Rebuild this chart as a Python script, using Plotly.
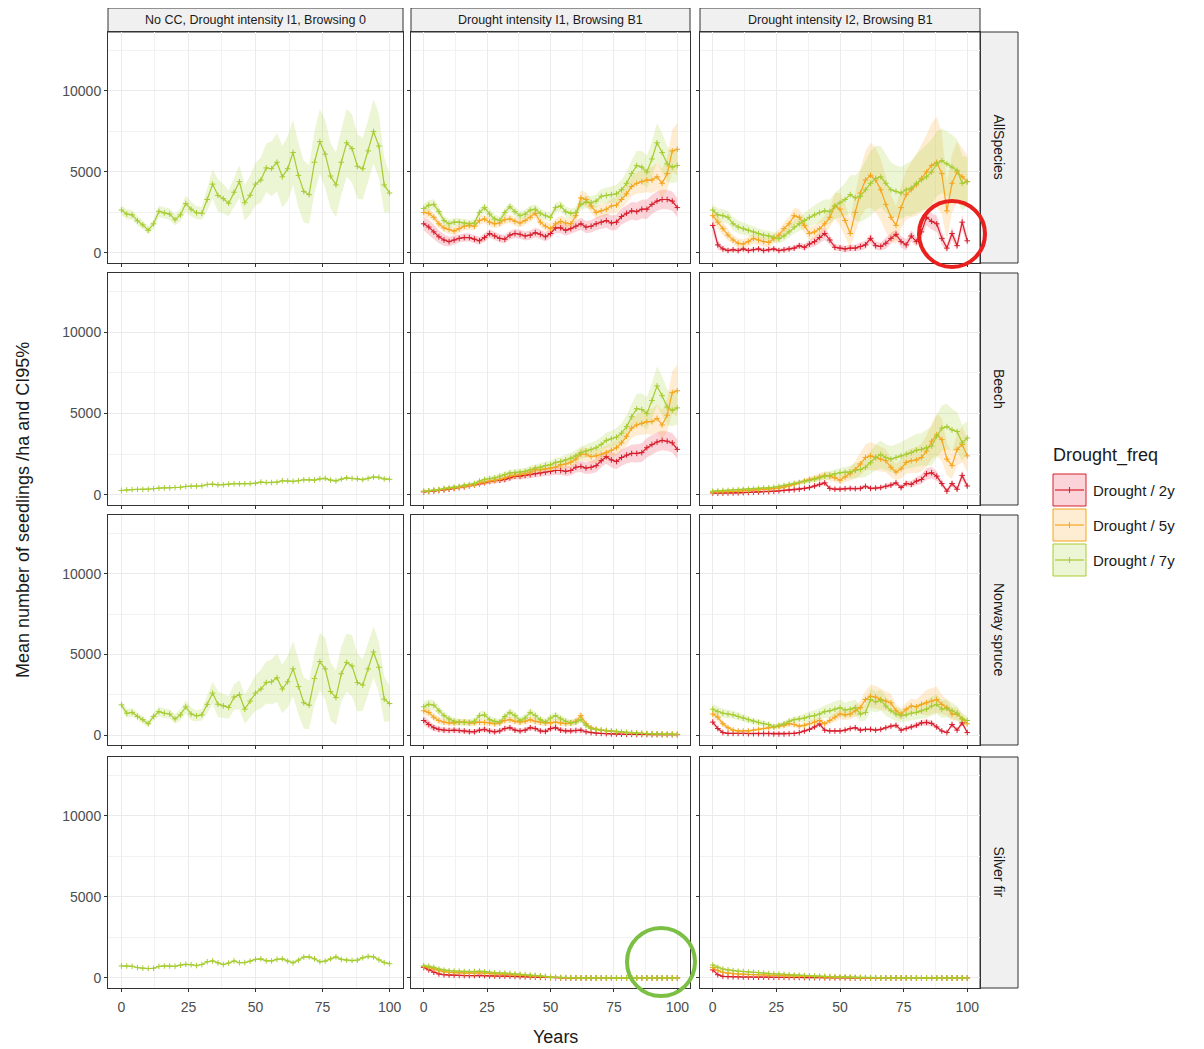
import plotly.graph_objects as go
from plotly.subplots import make_subplots

# page body has an 8px margin, so the figure is 8px smaller than the window
OFF = 8
W, H = 1204 - OFF, 1049 - OFF

years = list(range(0, 101, 2))
col_titles = ["No CC, Drought intensity I1, Browsing 0",
              "Drought intensity I1, Browsing B1",
              "Drought intensity I2, Browsing B1"]
row_titles = ["AllSpecies", "Beech", "Norway spruce", "Silver fir"]
freqs = ["Drought / 2y", "Drought / 5y", "Drought / 7y"]

# ---- AllSpecies ----
all_noCC_7y = [2650, 2400, 2350, 1980, 1730, 1400, 1800, 2570, 2470, 2400, 2050, 2350, 3050, 2700, 2480, 2450,
               3300, 4250, 3550, 3350, 3070, 3750, 4400, 3100, 3560, 4250, 4500, 5250, 5200, 5600, 4700, 5200,
               6200, 4790, 3800, 3600, 5600, 6870, 6100, 4750, 4200, 5600, 6800, 6440, 5350, 5200, 6300, 7500,
               6600, 4200, 3700]
ci_all_noCC_7y = [300, 320, 300, 280, 260, 250, 300, 350, 350, 350, 350, 400, 500, 450, 400, 400,
                  700, 900, 1000, 900, 800, 900, 1000, 1100, 1200, 1300, 1400, 1500, 1700, 1800, 1900, 2000,
                  2000, 2000, 1900, 1800, 1900, 2000, 2100, 2000, 2000, 2000, 2100, 2100, 2000, 1900, 1900, 2000,
                  2000, 1700, 1200]
all_I1_2y = [1800, 1600, 1300, 1000, 800, 700, 800, 900, 950, 950, 850, 750, 950, 1200, 1050, 900,
             850, 1100, 1200, 1150, 1050, 1100, 1250, 1150, 1000, 1200, 1550, 1550, 1400, 1500, 1650, 1800,
             1600, 1650, 1800, 1900, 2000, 1850, 1900, 2250, 2450, 2600, 2550, 2700, 2700, 3000, 3200, 3300,
             3300, 3200, 2800]
ci_all_I1_2y = [400, 450, 450, 400, 350, 300, 280, 260, 250, 250, 250, 250, 260, 260, 260, 260,
                260, 270, 280, 280, 280, 290, 300, 300, 300, 300, 320, 330, 340, 350, 360, 370,
                380, 390, 400, 420, 440, 460, 480, 500, 520, 540, 560, 580, 600, 600, 600, 600,
                600, 600, 600]
all_I1_5y = [2500, 2450, 2200, 1800, 1550, 1450, 1350, 1500, 1650, 1700, 1650, 2000, 2100, 1900, 1800, 1850,
             2050, 2100, 1950, 1850, 2000, 2200, 2450, 1900, 1650, 1500, 1800, 1950, 1850, 1800, 2300, 3400,
             3300, 2900, 2500, 2600, 2700, 2900, 2950, 3300, 3650, 4100, 4300, 4400, 4500, 4500, 4700, 4300,
             4900, 6300, 6400]
ci_all_I1_5y = [300, 300, 280, 260, 250, 250, 250, 250, 250, 250, 250, 260, 260, 260, 260, 260,
                270, 270, 270, 280, 280, 290, 300, 300, 300, 300, 320, 340, 360, 380, 400, 450,
                450, 420, 400, 400, 420, 450, 480, 520, 560, 600, 650, 700, 750, 800, 850, 900,
                1000, 1300, 1600]
all_I1_7y = [2740, 2950, 3000, 2550, 2000, 1800, 1900, 1900, 1850, 1800, 1850, 2500, 2800, 2400, 2100, 2000,
             2500, 2850, 2550, 2300, 2400, 2650, 2700, 2450, 2300, 2200, 2800, 2900, 2550, 2450, 2500, 3000,
             3150, 3100, 3200, 3500, 3550, 3600, 3650, 3900, 4300, 4900, 5400, 5300, 5000, 5800, 6800, 6200,
             5500, 5300, 5400]
ci_all_I1_7y = [300, 320, 320, 300, 280, 260, 250, 250, 250, 250, 250, 260, 280, 300, 280, 260,
                260, 280, 300, 280, 270, 280, 300, 300, 280, 280, 300, 320, 320, 300, 320, 350,
                380, 400, 420, 450, 480, 500, 550, 600, 700, 800, 900, 1000, 1000, 1100, 1200, 1200,
                1100, 1000, 1000]
all_I2_2y = [1700, 500, 250, 150, 200, 150, 250, 150, 200, 250, 150, 200, 250, 150, 200, 250,
             300, 450, 350, 550, 700, 950, 1200, 800, 350, 300, 250, 300, 300, 400, 500, 900,
             450, 400, 600, 900, 1150, 700, 500, 1050, 700, 1300, 2200, 1950, 1800, 900, 300, 1200,
             450, 1900, 750]
ci_all_I2_2y = [500, 300, 150, 120, 120, 120, 120, 120, 120, 120, 120, 120, 120, 120, 120, 150,
                150, 180, 200, 250, 300, 350, 400, 300, 200, 200, 200, 200, 200, 250, 250, 300,
                250, 250, 350, 350, 300, 350, 350, 350, 300, 400, 500, 500, 500, 400, 250, 400,
                250, 450, 300]
all_I2_5y = [2300, 1900, 1500, 1100, 800, 600, 550, 700, 900, 800, 700, 650, 900, 1100, 1500, 1800,
             2300, 2200, 1700, 1200, 1300, 1500, 1800, 2200, 2900, 2700, 2000, 1200, 2500, 3700, 4500, 4800,
             4500, 3900, 3000, 2200, 1700, 2800, 3600, 3900, 4200, 4600, 5000, 5400, 5600, 4900, 2600, 4300,
             5000, 4700, 4400]
ci_all_I2_5y = [400, 400, 400, 350, 300, 300, 300, 300, 300, 300, 300, 300, 300, 350, 400, 450,
                500, 500, 450, 400, 400, 450, 500, 600, 800, 1000, 1000, 900, 1200, 1500, 1800, 2000,
                2000, 1900, 1700, 1400, 1200, 1300, 1500, 1700, 1900, 2100, 2300, 2600, 2800, 2500, 1800,
                1800, 1900, 1800, 1600]
all_I2_7y = [2650, 2350, 2300, 2200, 1800, 1600, 1500, 1400, 1300, 1200, 1100, 1050, 950, 880, 1050, 1300,
             1600, 1800, 2000, 2200, 2350, 2500, 2600, 2550, 2900, 3100, 3300, 3600, 3400, 3500, 3900, 4300,
             4600, 4700, 4300, 3900, 3800, 3700, 3900, 4000, 4300, 4500, 4700, 5000, 5500, 5700, 5500, 5300,
             5100, 4300, 4400]
ci_all_I2_7y = [350, 400, 400, 400, 400, 400, 380, 360, 340, 320, 300, 300, 300, 300, 320, 350,
                400, 450, 500, 550, 600, 650, 700, 750, 800, 900, 1000, 1200, 1400, 1600, 1800, 2000,
                2000, 1900, 1800, 1700, 1600, 1600, 1600, 1700, 1800, 1900, 2000, 2000, 2000, 2000, 2000,
                2000, 1900, 1700, 1500]

# ---- Beech ----
beech_noCC_7y = [270, 310, 330, 340, 340, 350, 380, 420, 430, 430, 450, 470, 520, 540, 540, 560,
                 640, 660, 620, 620, 660, 690, 680, 690, 690, 720, 790, 760, 760, 780, 870, 860,
                 830, 870, 930, 930, 910, 990, 1020, 910, 860, 970, 1050, 1010, 990, 940, 1020, 1100,
                 1080, 980, 960]
ci_beech_noCC_7y = [30, 30, 30, 30, 30, 30, 30, 30, 30, 30, 30, 35, 35, 35, 40, 40,
                    40, 40, 40, 45, 45, 50, 50, 50, 50, 55, 55, 55, 60, 60, 60, 60,
                    65, 65, 65, 70, 70, 70, 70, 75, 75, 75, 80, 80, 80, 80, 85, 85,
                    85, 85, 80]
beech_I1_2y = [190, 210, 240, 270, 310, 350, 400, 450, 500, 560, 620, 680, 750, 820, 880, 900,
               950, 1050, 1150, 1150, 1200, 1250, 1300, 1350, 1400, 1450, 1500, 1500, 1450, 1500, 1700, 1750,
               1650, 1700, 1800, 2100, 2350, 2150, 2050, 2300, 2450, 2550, 2550, 2600, 2900, 3100, 3250, 3350,
               3300, 3200, 2800]
ci_beech_I1_2y = [40, 40, 50, 50, 60, 60, 70, 80, 90, 100, 110, 120, 130, 140, 150, 160,
                  170, 180, 190, 200, 210, 220, 230, 240, 250, 260, 270, 280, 290, 300, 320, 340,
                  360, 380, 400, 420, 440, 460, 480, 500, 520, 540, 560, 580, 600, 600, 600, 600,
                  600, 600, 600]
beech_I1_5y = [220, 240, 270, 300, 350, 380, 420, 470, 520, 560, 620, 720, 800, 850, 900, 950,
               1050, 1150, 1200, 1250, 1300, 1400, 1550, 1550, 1600, 1650, 1700, 1850, 1900, 2000, 2200, 2500,
               2500, 2350, 2400, 2500, 2600, 2750, 2900, 3200, 3600, 4100, 4300, 4400, 4500, 4500, 4700, 4300,
               4900, 6300, 6400]
ci_beech_I1_5y = [40, 40, 50, 50, 60, 60, 70, 80, 90, 100, 110, 120, 130, 140, 150, 160,
                  170, 180, 190, 200, 210, 220, 230, 240, 250, 260, 280, 300, 320, 340, 360, 400,
                  420, 420, 420, 420, 440, 460, 480, 520, 560, 600, 650, 700, 750, 800, 850, 900,
                  1000, 1300, 1600]
beech_I1_7y = [230, 260, 300, 330, 400, 430, 480, 520, 600, 640, 700, 850, 950, 1000, 1050, 1150,
               1250, 1350, 1380, 1400, 1450, 1550, 1650, 1700, 1800, 1850, 2000, 2050, 2150, 2250, 2400, 2600,
               2700, 2800, 2900, 3100, 3350, 3450, 3550, 3800, 4200, 4800, 5300, 5250, 5000, 5800, 6700, 6100,
               5400, 5200, 5350]
ci_beech_I1_7y = [40, 40, 50, 50, 60, 60, 70, 80, 90, 100, 110, 120, 130, 140, 150, 160,
                  170, 180, 190, 200, 210, 220, 230, 240, 250, 260, 280, 300, 320, 340, 360, 380,
                  400, 420, 440, 460, 480, 500, 550, 600, 700, 800, 900, 1000, 1000, 1100, 1200, 1200,
                  1100, 1000, 1000]
beech_I2_2y = [120, 110, 110, 120, 120, 130, 140, 150, 170, 180, 200, 200, 220, 250, 280, 300,
               320, 350, 400, 450, 550, 650, 740, 400, 350, 350, 380, 400, 380, 400, 530, 400,
               420, 450, 530, 600, 740, 450, 700, 650, 850, 950, 1300, 1360, 1150, 700, 230, 700,
               350, 1200, 550]
ci_beech_I2_2y = [30, 30, 30, 30, 30, 30, 30, 40, 40, 40, 50, 50, 50, 60, 60, 70,
                  70, 80, 90, 100, 120, 150, 150, 100, 100, 100, 100, 100, 100, 120, 100, 100,
                  110, 120, 150, 150, 120, 150, 150, 200, 250, 300, 350, 350, 300, 200, 100, 200,
                  150, 300, 200]
beech_I2_5y = [180, 180, 190, 200, 210, 230, 250, 260, 280, 300, 320, 350, 380, 420, 480, 550,
               650, 750, 850, 950, 1000, 1100, 1200, 1150, 1050, 900, 1100, 1300, 1550, 1900, 2300, 2400,
               2300, 2200, 2100, 1700, 1400, 1600, 2000, 2100, 2150, 2300, 2700, 3300, 3700, 3400, 2200, 1800,
               2800, 3100, 2400]
ci_beech_I2_5y = [40, 40, 40, 40, 50, 50, 50, 60, 60, 70, 70, 80, 80, 90, 100, 110,
                  120, 130, 150, 170, 200, 230, 260, 280, 260, 250, 300, 400, 550, 700, 800, 850,
                  800, 750, 700, 600, 500, 600, 700, 750, 800, 850, 950, 1100, 1300, 1300, 1000,
                  800, 1000, 1100, 1000]
beech_I2_7y = [230, 250, 270, 280, 300, 320, 340, 360, 370, 400, 420, 440, 470, 520, 580, 640,
               700, 760, 820, 880, 960, 1050, 1150, 1200, 1300, 1360, 1400, 1400, 1500, 1560, 1700, 1980,
               2300, 2490, 2300, 2200, 2300, 2400, 2500, 2600, 2750, 2800, 2900, 3000, 3600, 4100, 4200, 4000,
               3900, 3200, 3500]
ci_beech_I2_7y = [40, 40, 40, 40, 50, 50, 50, 60, 60, 70, 70, 80, 80, 90, 100, 110,
                  120, 130, 140, 160, 180, 200, 220, 250, 280, 300, 350, 400, 450, 500, 600, 700,
                  800, 850, 800, 800, 800, 850, 900, 950, 1000, 1000, 1100, 1200, 1300, 1400, 1400,
                  1300, 1200, 1100, 1000]

# ---- Norway spruce ----
spruce_noCC_7y = [1870, 1350, 1400, 1150, 950, 700, 1150, 1450, 1350, 1300, 1000, 1250, 1750, 1300, 1190, 1250,
                  1900, 2600, 1910, 1810, 1710, 2350, 2500, 1600, 2100, 2600, 2850, 3250, 3300, 3550, 2850, 3300,
                  4100, 3000, 2000, 1850, 3500, 4550, 4100, 2700, 2320, 3800, 4500, 4280, 3250, 3100, 4100, 5150,
                  4200, 2220, 1950]
ci_spruce_noCC_7y = [250, 280, 260, 240, 220, 200, 250, 300, 300, 300, 300, 350, 400, 400, 350, 350,
                     550, 700, 800, 750, 700, 800, 900, 900, 1000, 1100, 1200, 1300, 1400, 1500, 1500, 1600,
                     1700, 1700, 1600, 1500, 1600, 1800, 1900, 1800, 1700, 1700, 1800, 1900, 1800, 1600, 1600,
                     1600, 1600, 1400, 1100]
spruce_I1_2y = [900, 650, 450, 350, 300, 280, 300, 280, 250, 200, 200, 300, 350, 250, 200, 250,
                400, 450, 300, 250, 300, 450, 400, 250, 220, 400, 450, 300, 250, 250, 280, 300,
                200, 150, 120, 100, 80, 70, 60, 50, 40, 40, 30, 30, 30, 20, 20, 20,
                20, 20, 20]
ci_spruce_I1_2y = [300, 250, 200, 160, 150, 150, 150, 150, 140, 140, 140, 150, 150, 150, 140, 140,
                   150, 150, 150, 140, 140, 150, 150, 140, 140, 150, 150, 150, 140, 140, 140, 140,
                   100, 80, 60, 50, 40, 30, 30, 20, 20, 20, 20, 20, 10, 10, 10, 10,
                   10, 10, 10]
spruce_I1_5y = [1500, 1400, 1100, 900, 800, 750, 750, 800, 800, 750, 750, 800, 780, 750, 700, 750,
                900, 950, 850, 800, 850, 950, 850, 800, 750, 750, 800, 750, 700, 750, 850, 1200,
                700, 450, 350, 300, 250, 220, 200, 170, 150, 130, 110, 100, 90, 80, 70, 60,
                50, 50, 40]
ci_spruce_I1_5y = [280, 260, 230, 200, 190, 180, 180, 180, 180, 180, 180, 190, 190, 180, 180, 180,
                   200, 200, 190, 190, 190, 200, 200, 190, 190, 190, 200, 190, 180, 190, 200, 250,
                   180, 120, 90, 80, 70, 60, 50, 50, 40, 40, 30, 30, 30, 20, 20, 20,
                   20, 20, 20]
spruce_I1_7y = [1750, 1900, 1850, 1500, 1200, 1000, 850, 780, 780, 780, 850, 1200, 1250, 950, 850, 800,
                1150, 1400, 1200, 900, 1050, 1400, 1200, 950, 800, 1050, 1200, 1000, 850, 750, 800, 950,
                600, 400, 350, 300, 280, 250, 220, 180, 160, 150, 120, 100, 90, 80, 70, 60,
                50, 50, 40]
ci_spruce_I1_7y = [300, 320, 310, 280, 250, 230, 220, 210, 210, 210, 220, 250, 260, 230, 220, 210,
                   240, 260, 240, 220, 230, 260, 240, 220, 210, 230, 240, 220, 200, 190, 200, 210,
                   160, 110, 90, 80, 70, 60, 50, 50, 40, 40, 30, 30, 30, 20, 20, 20,
                   20, 20, 20]
spruce_I2_2y = [800, 400, 150, 100, 100, 100, 100, 80, 80, 80, 80, 80, 60, 60, 60, 80,
                100, 150, 250, 350, 500, 680, 300, 250, 250, 250, 300, 400, 450, 300, 350, 350,
                300, 350, 450, 550, 600, 300, 400, 500, 600, 750, 780, 720, 500, 250, 150, 650,
                300, 750, 150]
ci_spruce_I2_2y = [200, 100, 50, 30, 30, 30, 30, 30, 20, 20, 20, 20, 20, 20, 20, 20,
                   30, 30, 50, 80, 120, 150, 80, 60, 60, 60, 80, 100, 100, 80, 80, 80,
                   80, 80, 100, 120, 150, 80, 100, 120, 150, 180, 200, 180, 120, 60, 40, 150,
                   80, 180, 40]
spruce_I2_5y = [1300, 1100, 700, 450, 300, 250, 250, 250, 300, 350, 400, 450, 500, 550, 600, 700,
                650, 550, 600, 700, 800, 900, 700, 900, 1100, 1300, 1250, 1300, 1500, 1700, 2200, 2400,
                2350, 2200, 2100, 2000, 1500, 1300, 1600, 1800, 1750, 1900, 2000, 2100, 2200, 1900, 1700,
                1300, 1300, 1000, 700]
ci_spruce_I2_5y = [300, 250, 200, 150, 100, 80, 80, 80, 90, 100, 110, 120, 130, 140, 150, 170,
                   160, 150, 160, 180, 200, 220, 180, 220, 280, 330, 320, 330, 380, 430, 550, 700,
                   700, 650, 600, 550, 400, 350, 400, 450, 450, 600, 800, 800, 800, 600, 500, 400,
                   400, 300, 200]
spruce_I2_7y = [1600, 1450, 1350, 1300, 1250, 1150, 1050, 950, 850, 780, 700, 650, 500, 600, 700, 850,
                950, 1000, 1050, 1150, 1200, 1300, 1450, 1500, 1600, 1700, 1550, 1600, 1700, 1300, 1400, 2200,
                2050, 2150, 1800, 1500, 1300, 1200, 1250, 1350, 1400, 1500, 1600, 1800, 1900, 1600, 1650,
                1500, 1350, 1000, 900]
ci_spruce_I2_7y = [300, 300, 280, 260, 250, 240, 220, 200, 190, 180, 170, 160, 150, 150, 160, 180,
                   200, 230, 260, 300, 330, 360, 400, 450, 500, 500, 450, 500, 500, 450, 500, 700,
                   650, 650, 600, 500, 450, 400, 400, 450, 450, 500, 550, 600, 600, 550, 550, 500,
                   450, 350, 300]

# ---- Silver fir ----
fir_noCC_7y = [740, 740, 720, 640, 600, 580, 600, 710, 740, 740, 720, 790, 840, 820, 760, 830,
               1000, 1050, 930, 830, 920, 1050, 940, 950, 1040, 1150, 1180, 1060, 1050, 1150, 1180, 1040,
               930, 1100, 1290, 1300, 1180, 1000, 1040, 1180, 1300, 1150, 1100, 1070, 1100, 1250, 1330, 1300,
               1120, 950, 880]
ci_fir_noCC_7y = [40, 40, 40, 40, 35, 35, 35, 35, 40, 40, 40, 40, 40, 45, 45, 45,
                  50, 50, 50, 50, 50, 55, 55, 55, 60, 60, 60, 60, 60, 65, 65, 65,
                  70, 70, 70, 70, 75, 75, 75, 80, 80, 80, 80, 80, 85, 85, 85, 85,
                  80, 80, 80]
fir_I1_2y = [650, 500, 350, 250, 200, 180, 170, 160, 150, 150, 150, 170, 150, 130, 120, 110,
             120, 110, 100, 80, 70, 60, 50, 40, 30, 20, 10, 0, 0, 0, 0, 0,
             0, 0, 0, 0, 0, 0, 0, 0, 0, 0, 0, 0, 0, 0, 0, 0,
             0, 0, 0]
ci_fir_I1_2y = [100, 80, 60, 50, 40, 40, 40, 40, 40, 40, 40, 40, 40, 30, 30, 30,
                30, 30, 30, 20, 20, 20, 20, 10, 10, 10, 10, 0, 0, 0, 0, 0,
                0, 0, 0, 0, 0, 0, 0, 0, 0, 0, 0, 0, 0, 0, 0, 0,
                0, 0, 0]
fir_I1_5y = [700, 650, 550, 450, 380, 350, 330, 320, 300, 300, 300, 320, 300, 270, 250, 230,
             230, 210, 190, 170, 150, 130, 110, 90, 70, 40, 30, 20, 10, 10, 10, 0,
             0, 0, 0, 0, 0, 0, 0, 0, 0, 0, 0, 0, 0, 0, 0, 0,
             0, 0, 0]
ci_fir_I1_5y = [110, 100, 90, 80, 70, 60, 60, 60, 60, 60, 60, 60, 60, 50, 50, 50,
                50, 40, 40, 40, 30, 30, 30, 20, 20, 10, 10, 10, 0, 0, 0, 0,
                0, 0, 0, 0, 0, 0, 0, 0, 0, 0, 0, 0, 0, 0, 0, 0,
                0, 0, 0]
fir_I1_7y = [750, 720, 650, 550, 480, 450, 430, 420, 400, 380, 400, 420, 380, 350, 320, 300,
             300, 280, 250, 230, 200, 180, 160, 140, 100, 60, 40, 30, 20, 20, 10, 0,
             0, 0, 0, 0, 0, 0, 0, 0, 0, 0, 0, 0, 0, 0, 0, 0,
             0, 0, 0]
ci_fir_I1_7y = [120, 110, 100, 90, 80, 70, 60, 60, 60, 60, 60, 60, 55, 50, 50, 45,
                45, 40, 40, 35, 35, 30, 30, 25, 20, 15, 10, 10, 5, 5, 5, 0,
                0, 0, 0, 0, 0, 0, 0, 0, 0, 0, 0, 0, 0, 0, 0, 0,
                0, 0, 0]
fir_I2_2y = [500, 200, 100, 80, 70, 70, 60, 60, 50, 50, 50, 50, 40, 40, 40, 30,
             30, 30, 20, 20, 20, 20, 10, 10, 10, 10, 10, 0, 0, 0, 0, 0,
             0, 0, 0, 0, 0, 0, 0, 0, 0, 0, 0, 0, 0, 0, 0, 0,
             0, 0, 0]
ci_fir_I2_2y = [100, 50, 30, 20, 20, 20, 20, 20, 20, 20, 20, 20, 10, 10, 10, 10,
                10, 10, 10, 10, 10, 10, 5, 5, 5, 5, 5, 0, 0, 0, 0, 0,
                0, 0, 0, 0, 0, 0, 0, 0, 0, 0, 0, 0, 0, 0, 0, 0,
                0, 0, 0]
fir_I2_5y = [650, 450, 350, 300, 270, 250, 230, 210, 200, 190, 180, 170, 160, 150, 140, 130,
             120, 110, 100, 90, 80, 70, 60, 50, 40, 30, 20, 20, 10, 10, 10, 10,
             0, 0, 0, 0, 0, 0, 0, 0, 0, 0, 0, 0, 0, 0, 0, 0,
             0, 0, 0]
ci_fir_I2_5y = [110, 80, 60, 50, 50, 45, 45, 40, 40, 40, 35, 35, 30, 30, 30, 25,
                25, 20, 20, 20, 15, 15, 10, 10, 10, 5, 5, 5, 5, 0, 0, 0,
                0, 0, 0, 0, 0, 0, 0, 0, 0, 0, 0, 0, 0, 0, 0, 0,
                0, 0, 0]
fir_I2_7y = [800, 650, 550, 500, 450, 420, 400, 370, 350, 320, 300, 280, 260, 240, 220, 200,
             180, 160, 150, 130, 120, 110, 100, 90, 80, 70, 60, 50, 40, 30, 30, 20,
             20, 10, 10, 10, 10, 10, 0, 0, 0, 0, 0, 0, 0, 0, 0, 0,
             0, 0, 0]
ci_fir_I2_7y = [130, 110, 90, 80, 70, 65, 60, 55, 50, 50, 45, 45, 40, 40, 35, 35,
                30, 30, 25, 25, 20, 20, 20, 15, 15, 15, 10, 10, 10, 5, 5, 5,
                5, 5, 5, 0, 0, 0, 0, 0, 0, 0, 0, 0, 0, 0, 0, 0,
                0, 0, 0]

# (row, col) -> series of that panel
panels = {
    (1, 1): [("Drought / 7y", all_noCC_7y, ci_all_noCC_7y)],
    (1, 2): [("Drought / 2y", all_I1_2y, ci_all_I1_2y), ("Drought / 5y", all_I1_5y, ci_all_I1_5y),
             ("Drought / 7y", all_I1_7y, ci_all_I1_7y)],
    (1, 3): [("Drought / 2y", all_I2_2y, ci_all_I2_2y), ("Drought / 5y", all_I2_5y, ci_all_I2_5y),
             ("Drought / 7y", all_I2_7y, ci_all_I2_7y)],
    (2, 1): [("Drought / 7y", beech_noCC_7y, ci_beech_noCC_7y)],
    (2, 2): [("Drought / 2y", beech_I1_2y, ci_beech_I1_2y), ("Drought / 5y", beech_I1_5y, ci_beech_I1_5y),
             ("Drought / 7y", beech_I1_7y, ci_beech_I1_7y)],
    (2, 3): [("Drought / 2y", beech_I2_2y, ci_beech_I2_2y), ("Drought / 5y", beech_I2_5y, ci_beech_I2_5y),
             ("Drought / 7y", beech_I2_7y, ci_beech_I2_7y)],
    (3, 1): [("Drought / 7y", spruce_noCC_7y, ci_spruce_noCC_7y)],
    (3, 2): [("Drought / 2y", spruce_I1_2y, ci_spruce_I1_2y), ("Drought / 5y", spruce_I1_5y, ci_spruce_I1_5y),
             ("Drought / 7y", spruce_I1_7y, ci_spruce_I1_7y)],
    (3, 3): [("Drought / 2y", spruce_I2_2y, ci_spruce_I2_2y), ("Drought / 5y", spruce_I2_5y, ci_spruce_I2_5y),
             ("Drought / 7y", spruce_I2_7y, ci_spruce_I2_7y)],
    (4, 1): [("Drought / 7y", fir_noCC_7y, ci_fir_noCC_7y)],
    (4, 2): [("Drought / 2y", fir_I1_2y, ci_fir_I1_2y), ("Drought / 5y", fir_I1_5y, ci_fir_I1_5y),
             ("Drought / 7y", fir_I1_7y, ci_fir_I1_7y)],
    (4, 3): [("Drought / 2y", fir_I2_2y, ci_fir_I2_2y), ("Drought / 5y", fir_I2_5y, ci_fir_I2_5y),
             ("Drought / 7y", fir_I2_7y, ci_fir_I2_7y)],
}

line_col = {"Drought / 2y": "rgb(215,30,45)", "Drought / 5y": "rgb(245,165,30)", "Drought / 7y": "rgb(166,204,50)"}
fill_col = {"Drought / 2y": "rgba(235,60,80,0.22)", "Drought / 5y": "rgba(250,175,50,0.22)",
            "Drought / 7y": "rgba(170,210,60,0.22)"}

FONT = "Liberation Sans, Arial, sans-serif"


# reference pixel -> paper coordinates
def px(x):
    return (x - OFF) / W


def py(y):
    return 1 - (y - OFF) / H


# panel pixel boxes
col_x = [(108, 403), (411, 690), (700, 980)]
row_y = [(32, 263), (273, 505), (515, 745), (757, 988)]

fig = make_subplots(rows=4, cols=3)

for (r, c), series in panels.items():
    # ribbons first, then lines (as in ggplot layer order)
    for f, mean, ci in series:
        up = [m + e for m, e in zip(mean, ci)]
        lo = [max(m - e, 0) for m, e in zip(mean, ci)]
        fig.add_trace(go.Scatter(x=years + years[::-1], y=up + lo[::-1], fill="toself",
                                 fillcolor=fill_col[f], line=dict(width=0), mode="lines",
                                 hoverinfo="skip", showlegend=False), row=r, col=c)
    for f, mean, ci in series:
        fig.add_trace(go.Scatter(x=years, y=mean, mode="lines+markers", name=f,
                                 line=dict(color=line_col[f], width=1.2),
                                 marker=dict(symbol="cross-thin", size=4,
                                             line=dict(color=line_col[f], width=1)),
                                 showlegend=False), row=r, col=c)

layout_upd = {}
for r in range(1, 5):
    for c in range(1, 4):
        n = (r - 1) * 3 + c
        sx = "xaxis" if n == 1 else f"xaxis{n}"
        sy = "yaxis" if n == 1 else f"yaxis{n}"
        x0, x1 = col_x[c - 1]
        y0, y1 = row_y[r - 1]
        layout_upd[sx] = dict(
            domain=[px(x0), px(x1)], range=[-5, 105], tick0=0, dtick=25,
            showgrid=True, gridcolor="#EBEBEB", gridwidth=1.3, zeroline=False,
            showline=True, mirror=True, linecolor="#333333", linewidth=1,
            ticks="outside", ticklen=3, tickcolor="#333333",
            showticklabels=(r == 4), tickfont=dict(family=FONT, size=14, color="#4D4D4D"),
            ticklabelstandoff=3,
            minor=dict(tick0=0, dtick=12.5, showgrid=True, gridcolor="#F2F2F2", gridwidth=1),
            automargin=False,
        )
        layout_upd[sy] = dict(
            domain=[py(y1), py(y0)], range=[-620, 13640], tick0=0, dtick=5000, tickformat="d",
            showgrid=True, gridcolor="#EBEBEB", gridwidth=1.3, zeroline=False,
            showline=True, mirror=True, linecolor="#333333", linewidth=1,
            ticks="outside", ticklen=3, tickcolor="#333333",
            showticklabels=(c == 1), tickfont=dict(family=FONT, size=14, color="#4D4D4D"),
            minor=dict(tick0=0, dtick=2500, showgrid=True, gridcolor="#F2F2F2", gridwidth=1),
            automargin=False,
        )


def note(x, y, text, size, xanchor="center", angle=0):
    return dict(xref="paper", yref="paper", x=px(x), y=py(y), xanchor=xanchor, yanchor="middle",
                text=text, textangle=angle, showarrow=False,
                font=dict(family=FONT, size=size, color="#1A1A1A"))


shapes = []
annotations = []
# top strips
for c, title in enumerate(col_titles):
    x0, x1 = col_x[c]
    shapes.append(dict(type="rect", xref="paper", yref="paper", x0=px(x0), x1=px(x1), y0=py(32), y1=py(8),
                       fillcolor="#F0F0F0", line=dict(color="#333333", width=1), layer="below"))
    annotations.append(note((x0 + x1) / 2, 20, title, 12.5))
# right strips
for r, title in enumerate(row_titles):
    y0, y1 = row_y[r]
    shapes.append(dict(type="rect", xref="paper", yref="paper", x0=px(980), x1=px(1018), y0=py(y1), y1=py(y0),
                       fillcolor="#F0F0F0", line=dict(color="#333333", width=1), layer="below"))
    annotations.append(note(999, (y0 + y1) / 2, title, 14, angle=90))

# axis titles
annotations.append(note(555, 1037, "Years", 18))
annotations.append(note(23, 510, "Mean number of seedlings /ha and CI95%", 18, angle=-90))

# legend drawn by hand (ggplot style keys)
annotations.append(note(1051, 456, "Drought_freq", 18, xanchor="left"))
key_top = [474, 509, 544]
for f, kt in zip(freqs, key_top):
    kb = kt + 32
    shapes.append(dict(type="rect", xref="paper", yref="paper", x0=px(1053), x1=px(1086), y0=py(kb), y1=py(kt),
                       fillcolor=fill_col[f], line=dict(color=line_col[f], width=1)))
    ym = (kt + kb) / 2
    shapes.append(dict(type="line", xref="paper", yref="paper", x0=px(1055), x1=px(1084), y0=py(ym), y1=py(ym),
                       line=dict(color=line_col[f], width=1.2)))
    shapes.append(dict(type="line", xref="paper", yref="paper", x0=px(1069.5), x1=px(1069.5), y0=py(ym - 3),
                       y1=py(ym + 3), line=dict(color=line_col[f], width=1)))
    annotations.append(note(1091, ym, f, 15, xanchor="left"))

# highlight circles drawn over the figure
for cx, cy, rad, col in [(952, 234, 33, "#E8201E"), (661, 962, 34, "#7BBF44")]:
    shapes.append(dict(type="circle", xref="paper", yref="paper", x0=px(cx - rad), x1=px(cx + rad),
                       y0=py(cy + rad), y1=py(cy - rad), line=dict(color=col, width=4), layer="above"))

fig.update_layout(
    width=W, height=H, margin=dict(l=0, r=0, t=0, b=0),
    paper_bgcolor="white", plot_bgcolor="white", showlegend=False,
    shapes=shapes, annotations=annotations,
    **layout_upd,
)

fig.write_html("out.html")
